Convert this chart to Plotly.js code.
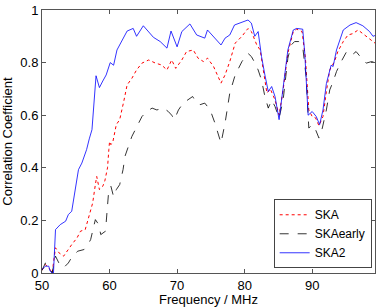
<!DOCTYPE html>
<html><head><meta charset="utf-8">
<script src="https://cdn.plot.ly/plotly-3.0.1.min.js"></script>
<style>html,body{margin:0;padding:0;background:#fff}#c{width:382px;height:307px}</style>
</head><body><div id="c"></div>
<script>
const skaF = [50,50.5,51,51.5,52.0,52.5,53.2,53.7,54.4,55.2,55.7,56.4,56.9,57.5,57.9,58.1,58.5,59.0,59.3,59.7,59.9,60.0,60.2,60.5,61.0,61.5,62.1,62.6,63.3,64.0,64.8,65.8,66.8,67.7,68.5,69.2,69.8,70.7,71.4,72.4,73.1,73.9,74.5,75.4,76.5,77.1,77.8,78.6,79.6,80.5,81.0,81.8,82.3,82.8,83.3,83.8,84.5,85.1,85.7,86.4,87.2,87.7,88.5,89.0,89.5,90.0,90.5,91.0,91.6,92.1,92.6,93.3,93.8,94.6,95.3,96.0,96.8,97.5,98.3,99.0,99.5];
const skaV = [0.01,0.032,0.02,0.0,0.096,0.077,0.064,0.083,0.108,0.134,0.159,0.165,0.216,0.266,0.336,0.367,0.317,0.33,0.35,0.40,0.47,0.50,0.488,0.50,0.564,0.583,0.652,0.715,0.74,0.772,0.798,0.81,0.798,0.791,0.772,0.81,0.778,0.81,0.842,0.848,0.817,0.804,0.817,0.785,0.722,0.753,0.804,0.874,0.90,0.93,0.918,0.867,0.848,0.76,0.684,0.70,0.658,0.60,0.696,0.836,0.918,0.927,0.918,0.817,0.62,0.595,0.59,0.56,0.595,0.69,0.772,0.804,0.842,0.88,0.905,0.91,0.924,0.91,0.893,0.88,0.87];

const earlyF = [50,50.5,51,51.5,52.0,52.5,53.2,53.9,54.5,55.3,56.2,56.8,57.2,57.9,58.4,58.7,59.4,59.85,60.2,60.6,61.0,61.5,62.0,62.3,63.3,64.0,64.8,65.5,66.3,67.0,68.0,68.7,69.2,69.6,70.2,70.9,71.6,72.3,72.9,73.4,74.1,74.9,75.6,76.5,77.1,77.8,78.6,79.6,80.5,81.0,81.5,82.0,82.5,83.0,83.5,84.0,84.5,85.1,85.7,86.4,86.9,87.4,88.0,88.6,89.1,89.5,90.0,90.5,91.0,91.5,92.1,92.6,93.1,93.6,94.3,95.1,95.9,96.5,97.3,98.0,98.8,99.5];
const earlyV = [0.01,0.038,0.026,0.0,0.064,0.038,0.02,0.038,0.064,0.083,0.089,0.108,0.127,0.203,0.184,0.146,0.159,0.304,0.33,0.29,0.317,0.336,0.393,0.445,0.519,0.557,0.595,0.614,0.627,0.62,0.627,0.614,0.60,0.583,0.62,0.646,0.659,0.671,0.646,0.64,0.646,0.62,0.57,0.494,0.57,0.684,0.753,0.804,0.835,0.823,0.80,0.772,0.734,0.671,0.627,0.658,0.633,0.589,0.658,0.817,0.867,0.88,0.88,0.86,0.747,0.551,0.564,0.545,0.513,0.551,0.62,0.696,0.728,0.766,0.804,0.842,0.829,0.842,0.817,0.798,0.804,0.798];

const ska2F = [50,50.5,51,51.2,51.5,51.7,52.0,52.7,53.5,53.9,54.4,54.9,55.4,55.9,56.6,57.0,57.4,58.0,58.5,59.0,59.5,60.1,60.6,61.1,61.8,62.6,63.5,64.0,65.0,65.7,66.5,67.5,68.5,69.1,70.0,70.7,71.9,72.9,73.4,74.1,74.5,75.9,76.5,77.1,77.8,78.5,79.6,80.5,81.0,81.5,82.0,82.5,83.0,83.5,84.0,84.5,85.1,85.7,86.4,87.2,87.7,88.6,88.9,89.4,90.0,90.6,91.1,91.6,92.1,92.8,93.1,93.6,94.6,95.6,96.5,97.5,98.5,99.0,99.5];
const ska2V = [0.013,0.026,0.026,0.007,0.0,0.0,0.165,0.184,0.197,0.222,0.235,0.31,0.393,0.418,0.469,0.51,0.545,0.75,0.705,0.73,0.753,0.80,0.79,0.848,0.88,0.92,0.93,0.90,0.94,0.92,0.896,0.88,0.855,0.92,0.86,0.918,0.947,0.905,0.90,0.893,0.924,0.886,0.867,0.893,0.905,0.943,0.952,0.962,0.95,0.90,0.918,0.823,0.753,0.69,0.709,0.671,0.583,0.696,0.848,0.924,0.93,0.927,0.836,0.60,0.614,0.595,0.564,0.62,0.72,0.79,0.785,0.848,0.924,0.943,0.952,0.94,0.918,0.90,0.905];

const xTicks = [50,60,70,80,90];
const yTicks = [0,0.2,0.4,0.6,0.8,1];
const yTickText = ['0','0.2','0.4','0.6','0.8','1'];

const traces = [
  {x: skaF, y: skaV, name: 'SKA', mode: 'lines', line: {color: '#ff0000', dash: 'dot', width: 1}},
  {x: earlyF, y: earlyV, name: 'SKAearly', mode: 'lines', line: {color: '#000000', dash: 'dash', width: 0.8}},
  {x: ska2F, y: ska2V, name: 'SKA2', mode: 'lines', line: {color: '#0000ff', width: 0.8}}
];

const FONT = 'Liberation Sans, Arial, sans-serif';
const axisCommon = {
  showline: true, mirror: 'ticks', linecolor: '#555', linewidth: 1,
  ticks: 'inside', ticklen: 4, tickcolor: '#555', showgrid: false, zeroline: false,
  tickfont: {family: FONT, size: 13, color: '#000'}
};

const layout = {
  width: 382, height: 307,
  margin: {l: 41.6, r: 6.5, t: 10, b: 33.5},
  paper_bgcolor: '#fff', plot_bgcolor: '#fff',
  showlegend: true,
  xaxis: Object.assign({}, axisCommon, {
    range: [50, 99.3], tickvals: xTicks, ticktext: xTicks.map(String),
    title: {text: 'Frequency / MHz', font: {family: FONT, size: 13, color: '#000'}, standoff: 2}
  }),
  yaxis: Object.assign({}, axisCommon, {
    range: [0, 1], tickvals: yTicks, ticktext: yTickText,
    title: {text: 'Correlation Coefficient', font: {family: FONT, size: 13, color: '#000'}, standoff: 4}
  }),
  legend: {
    x: 0.99, y: 0.018, xanchor: 'right', yanchor: 'bottom',
    bgcolor: '#fff', bordercolor: '#444', borderwidth: 1,
    font: {family: FONT, size: 12, color: '#000'},
    tracegroupgap: 0, itemwidth: 30
  }
};

Plotly.newPlot('c', traces, layout, {displayModeBar: false, staticPlot: true});
</script>
</body></html>
